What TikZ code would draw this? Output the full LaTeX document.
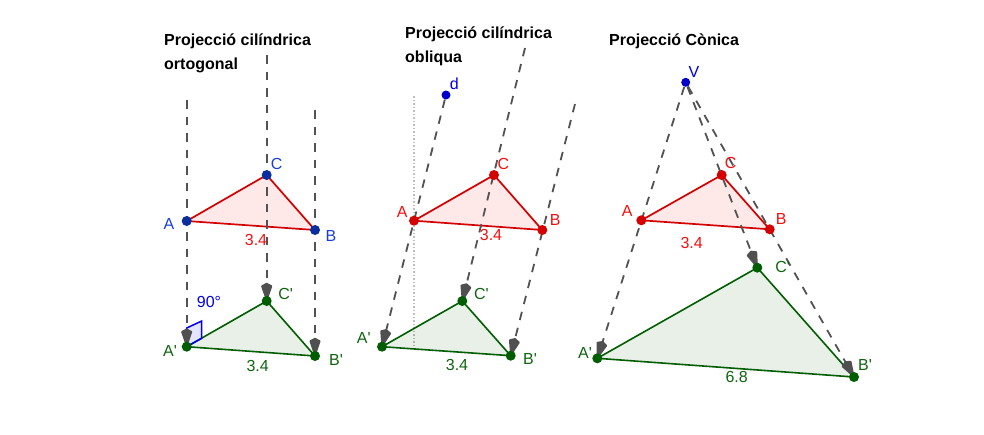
\documentclass[tikz,border=0pt]{standalone}
\usepackage{fontspec}
\setmainfont{Liberation Sans}[Ligatures=TeXOff]
\usepackage{xcolor}
\usetikzlibrary{arrows.meta,backgrounds}
\definecolor{ptblue}{HTML}{0A2E9E}
\definecolor{ptbright}{HTML}{0000CC}
\definecolor{ptred}{HTML}{D40000}
\definecolor{ptgreen}{HTML}{005E00}
\definecolor{txtblue}{HTML}{1A3FD6}
\definecolor{txtred}{HTML}{F01010}
\definecolor{txtgreen}{HTML}{0F640F}
\definecolor{headgray}{HTML}{505050}
\tikzset{%
  dot/.style={circle,inner sep=0pt,minimum size=10pt},
  bluedot/.style={dot,fill=ptblue},
  brightdot/.style={dot,fill=ptbright,minimum size=9pt},
  reddot/.style={dot,fill=ptred},
  greendot/.style={dot,fill=ptgreen},
  txt/.style={inner sep=0pt,font=\fontsize{16}{18}\selectfont},
  bluetxt/.style={txt,text=txtblue},
  redtxt/.style={txt,text=txtred},
  greentxt/.style={txt,text=txtgreen},
  heading/.style={inner sep=0pt,anchor=west,font=\fontsize{16}{18}\selectfont\bfseries},
  ray/.style={line width=1.8pt,draw=black!68,dash pattern=on 8.5pt off 8pt},
  proj/.style={ray,-{Kite[length=20pt,width=11.5pt,inset=3pt,round,sep=-5pt,fill=headgray,color=headgray]}},
  redtri/.style={draw=ptred,line width=1.7pt,line join=round,fill=red,fill opacity=0.09},
  greentri/.style={draw=ptgreen,line width=1.6pt,line join=round,fill=ptgreen,fill opacity=0.09},
  rightmark/.style={draw=blue!90!black,line width=1.5pt,fill=blue,fill opacity=0.1},
}

\begin{document}
\begin{tikzpicture}[x=1pt,y=-1pt]
  \useasboundingbox (0,0) rectangle (984,434);

  % titles
  \node[heading] (titleOne) at (164,41) {Projecció cilíndrica};
  \node[heading] (titleOneB) at (164,65) {ortogonal};
  \node[heading] (titleTwo) at (405,34) {Projecció cilíndrica};
  \node[heading] (titleTwoB) at (405,58) {obliqua};
  \node[heading] (titleThree) at (609,41) {Projecció Cònica};

  % orthogonal
  \coordinate (oTopA) at (186.7,100);
  \coordinate (oTopC) at (266.7,55);
  \coordinate (oTopB) at (315,110);
  \node[bluedot] (oA) at (186.7,221) {};
  \node[bluedot] (oB) at (315,230) {};
  \node[bluedot] (oC) at (266.7,175) {};
  \node[greendot] (oAp) at (186.7,346.7) {};
  \node[greendot] (oBp) at (315,356) {};
  \node[greendot] (oCp) at (266.7,301) {};
  \node[bluetxt] (oAt) at (169,224) {A};
  \node[bluetxt] (oBt) at (331,236) {B};
  \node[bluetxt] (oCt) at (276.7,164) {C};
  \node[greentxt] (oApt) at (170,350.7) {A'};
  \node[greentxt] (oBpt) at (336,360) {B'};
  \node[greentxt] (oCpt) at (285.7,294) {C'};
  \node[redtxt] (oLen) at (256,239.5) {3.4};
  \node[greentxt] (oLenp) at (257.7,365.5) {3.4};
  \node[bluetxt,text=blue!90!black] (oAngle) at (209,302) {90°};

  % oblique
  \coordinate (mTopC) at (525,48);
  \coordinate (mTopB) at (575,104);
  \coordinate (mDotTop) at (414,96);
  \coordinate (mDotEnd) at (414,349);
  \node[brightdot] (mD) at (446,95) {};
  \node[reddot] (mA) at (414,220.7) {};
  \node[reddot] (mB) at (542.3,230) {};
  \node[reddot] (mC) at (494,175) {};
  \node[greendot] (mAp) at (382,346.7) {};
  \node[greendot] (mBp) at (510.7,355.7) {};
  \node[greendot] (mCp) at (462.3,301) {};
  \node[bluetxt,text=blue!90!black] (mDt) at (454.3,83.5) {d};
  \node[redtxt] (mAt) at (402.3,211.7) {A};
  \node[redtxt] (mBt) at (555.3,220) {B};
  \node[redtxt] (mCt) at (503.3,164) {C};
  \node[greentxt] (mApt) at (363.7,338.3) {A'};
  \node[greentxt] (mBpt) at (530,359) {B'};
  \node[greentxt] (mCpt) at (481.3,294) {C'};
  \node[redtxt] (mLen) at (491,235) {3.4};
  \node[greentxt] (mLenp) at (457,365) {3.4};

  % conic
  \node[brightdot] (cV) at (685.7,82.3) {};
  \node[reddot] (cA) at (641.3,220.3) {};
  \node[reddot] (cB) at (769.7,229.3) {};
  \node[reddot] (cC) at (721.7,175) {};
  \node[greendot] (cAp) at (597.3,358.3) {};
  \node[greendot] (cBp) at (854,377) {};
  \node[greendot] (cCp) at (757.3,267.7) {};
  \node[bluetxt,text=blue!90!black] (cVt) at (694,71.7) {V};
  \node[redtxt] (cAt) at (627.3,210.7) {A};
  \node[redtxt] (cBt) at (781.3,219.3) {B};
  \node[redtxt] (cCt) at (730.7,163.3) {C};
  \node[greentxt] (cApt) at (585,352.7) {A'};
  \node[greentxt] (cBpt) at (865,365) {B'};
  \node[greentxt] (cCpt) at (782.7,267.3) {C'};
  \node[redtxt] (cLen) at (691.7,243.3) {3.4};
  \node[greentxt] (cLenp) at (736.7,377.3) {6.8};

  \begin{scope}[on background layer]
    \draw[redtri] (oA.center) -- (oB.center) -- (oC.center) -- cycle;
    \draw[greentri] (oAp.center) -- (oBp.center) -- (oCp.center) -- cycle;
    \draw[rightmark] (oAp.center) -- (201.7,338.3) -- (201.7,321) -- (186.7,328) -- cycle;
    \draw[proj] (oTopA) -- (oAp);
    \draw[proj] (oTopC) -- (oCp);
    \draw[proj] (oTopB) -- (oBp);

    \draw[black!25,line width=1.5pt,dotted] (mDotTop) -- (mDotEnd);
    \draw[redtri] (mA.center) -- (mB.center) -- (mC.center) -- cycle;
    \draw[greentri] (mAp.center) -- (mBp.center) -- (mCp.center) -- cycle;
    \draw[proj] (mD) -- (mAp);
    \draw[proj] (mTopC) -- (mCp);
    \draw[proj] (mTopB) -- (mBp);

    \draw[redtri] (cA.center) -- (cB.center) -- (cC.center) -- cycle;
    \draw[greentri] (cAp.center) -- (cBp.center) -- (cCp.center) -- cycle;
    \draw[proj] (cV) -- (cAp);
    \draw[proj] (cV) -- (cCp);
    \draw[proj] (cV) -- (cBp);
  \end{scope}
\end{tikzpicture}
\end{document}
